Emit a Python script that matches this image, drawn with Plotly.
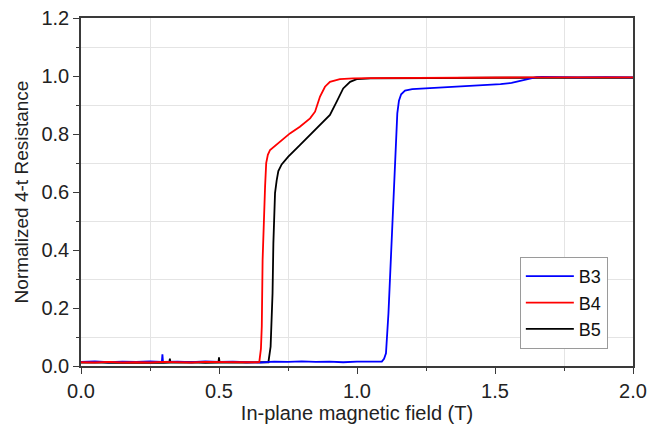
import plotly.graph_objects as go

# ---- data ----
b3_x = [0.0, 0.05, 0.10, 0.15, 0.20, 0.25, 0.293, 0.295, 0.297, 0.35, 0.40, 0.45, 0.50,
        0.55, 0.60, 0.65, 0.70, 0.75, 0.80, 0.85, 0.90, 0.95, 1.00, 1.05, 1.090, 1.098,
        1.105, 1.114, 1.122, 1.129, 1.138, 1.146, 1.152, 1.160, 1.174, 1.20, 1.264, 1.30,
        1.35, 1.42, 1.47, 1.52, 1.56, 1.58, 1.60, 1.627, 1.65, 1.67, 1.70, 1.80, 1.90, 2.0]
b3_y = [0.014, 0.016, 0.013, 0.015, 0.014, 0.016, 0.014, 0.040, 0.014, 0.015, 0.013, 0.016, 0.014,
        0.015, 0.013, 0.012, 0.015, 0.014, 0.016, 0.014, 0.015, 0.013, 0.015, 0.014, 0.015, 0.025,
        0.044, 0.182, 0.354, 0.527, 0.699, 0.871, 0.915, 0.937, 0.950, 0.955, 0.958, 0.960,
        0.962, 0.965, 0.968, 0.972, 0.976, 0.980, 0.985, 0.992, 0.996, 0.997, 0.996, 0.995, 0.996, 0.995]

b4_x = [0.0, 0.05, 0.10, 0.15, 0.20, 0.25, 0.30, 0.35, 0.40, 0.45, 0.50, 0.55, 0.60, 0.640,
        0.646, 0.652, 0.655, 0.658, 0.663, 0.667, 0.671, 0.677, 0.685, 0.709, 0.757, 0.793,
        0.830, 0.848, 0.866, 0.884, 0.902, 0.938, 0.986, 1.05, 1.20, 1.40, 1.60, 1.80, 2.0]
b4_y = [0.013, 0.012, 0.014, 0.012, 0.013, 0.012, 0.014, 0.013, 0.012, 0.014, 0.013, 0.012, 0.013, 0.013,
        0.014, 0.060, 0.136, 0.366, 0.538, 0.620, 0.700, 0.728, 0.745, 0.765, 0.802, 0.825,
        0.854, 0.877, 0.929, 0.963, 0.980, 0.989, 0.992, 0.993, 0.994, 0.994, 0.995, 0.995, 0.995]

b5_x = [0.0, 0.05, 0.10, 0.15, 0.20, 0.25, 0.30, 0.320, 0.322, 0.324, 0.40, 0.45, 0.498, 0.500,
        0.502, 0.55, 0.60, 0.65, 0.679, 0.687, 0.694, 0.697, 0.703, 0.709, 0.715, 0.727, 0.751,
        0.793, 0.830, 0.866, 0.902, 0.926, 0.950, 0.975, 0.999, 1.05, 1.20, 1.50, 1.80, 2.0]
b5_y = [0.012, 0.013, 0.011, 0.012, 0.013, 0.012, 0.011, 0.012, 0.025, 0.012, 0.013, 0.011, 0.012, 0.030,
        0.012, 0.011, 0.012, 0.013, 0.013, 0.067, 0.250, 0.423, 0.596, 0.640, 0.672, 0.695, 0.722,
        0.762, 0.797, 0.831, 0.866, 0.911, 0.957, 0.980, 0.989, 0.992, 0.993, 0.994, 0.994, 0.994]

x_ticks = [0.0, 0.5, 1.0, 1.5, 2.0]
x_tick_labels = ["0.0", "0.5", "1.0", "1.5", "2.0"]
x_minor = [0.25, 0.75, 1.25, 1.75]
y_ticks = [0.0, 0.2, 0.4, 0.6, 0.8, 1.0, 1.2]
y_tick_labels = ["0.0", "0.2", "0.4", "0.6", "0.8", "1.0", "1.2"]
y_minor = [0.1, 0.3, 0.5, 0.7, 0.9, 1.1]

FONT = "Arial, Liberation Sans, sans-serif"
AXIS_COLOR = "#3a3a3a"
GRID_COLOR = "#e4e4e4"
TEXT_COLOR = "#222222"

fig = go.Figure()
fig.add_trace(go.Scatter(x=b5_x, y=b5_y, mode="lines", name="B5", legendrank=3,
                         line=dict(color="#000000", width=1.8)))
fig.add_trace(go.Scatter(x=b3_x, y=b3_y, mode="lines", name="B3", legendrank=1,
                         line=dict(color="#0000ff", width=1.8)))
fig.add_trace(go.Scatter(x=b4_x, y=b4_y, mode="lines", name="B4", legendrank=2,
                         line=dict(color="#ff0000", width=1.8)))

axis_common = dict(
    showline=True, linecolor=AXIS_COLOR, linewidth=1.5, mirror=True,
    ticks="outside", ticklen=6, tickwidth=1.3, tickcolor=AXIS_COLOR,
    showgrid=False, zeroline=False, automargin=False,
    tickfont=dict(family=FONT, size=20, color=TEXT_COLOR),
)

fig.update_xaxes(
    range=[0, 2.0], tickvals=x_ticks, ticktext=x_tick_labels,
    title=dict(text="In-plane magnetic field (T)", font=dict(family=FONT, size=20, color=TEXT_COLOR),
               standoff=2),
    minor=dict(tickvals=x_minor, ticks="outside", ticklen=3, tickcolor=AXIS_COLOR, tickwidth=1.2,
               showgrid=True, gridcolor=GRID_COLOR, gridwidth=1),
    **axis_common,
)
fig.update_yaxes(
    range=[0, 1.2], tickvals=y_ticks, ticktext=y_tick_labels,
    title=dict(text="Normalized 4-t Resistance", font=dict(family=FONT, size=19, color=TEXT_COLOR),
               standoff=8),
    minor=dict(tickvals=y_minor, ticks="outside", ticklen=3, tickcolor=AXIS_COLOR, tickwidth=1.2,
               showgrid=True, gridcolor=GRID_COLOR, gridwidth=1),
    **axis_common,
)

fig.update_layout(
    width=649, height=429,
    margin=dict(l=81, r=16, t=18, b=63),
    plot_bgcolor="white", paper_bgcolor="white",
    showlegend=True,
    legend=dict(
        x=0.795, y=0.049, xanchor="left", yanchor="bottom",
        bgcolor="white", bordercolor="#9a9a9a", borderwidth=1,
        font=dict(family=FONT, size=18, color="#111111"),
        itemwidth=48, tracegroupgap=0,
    ),
)

fig.write_html("out.html", config={"displayModeBar": False},
               post_script="document.body.style.margin='0';document.body.style.padding='0';")
